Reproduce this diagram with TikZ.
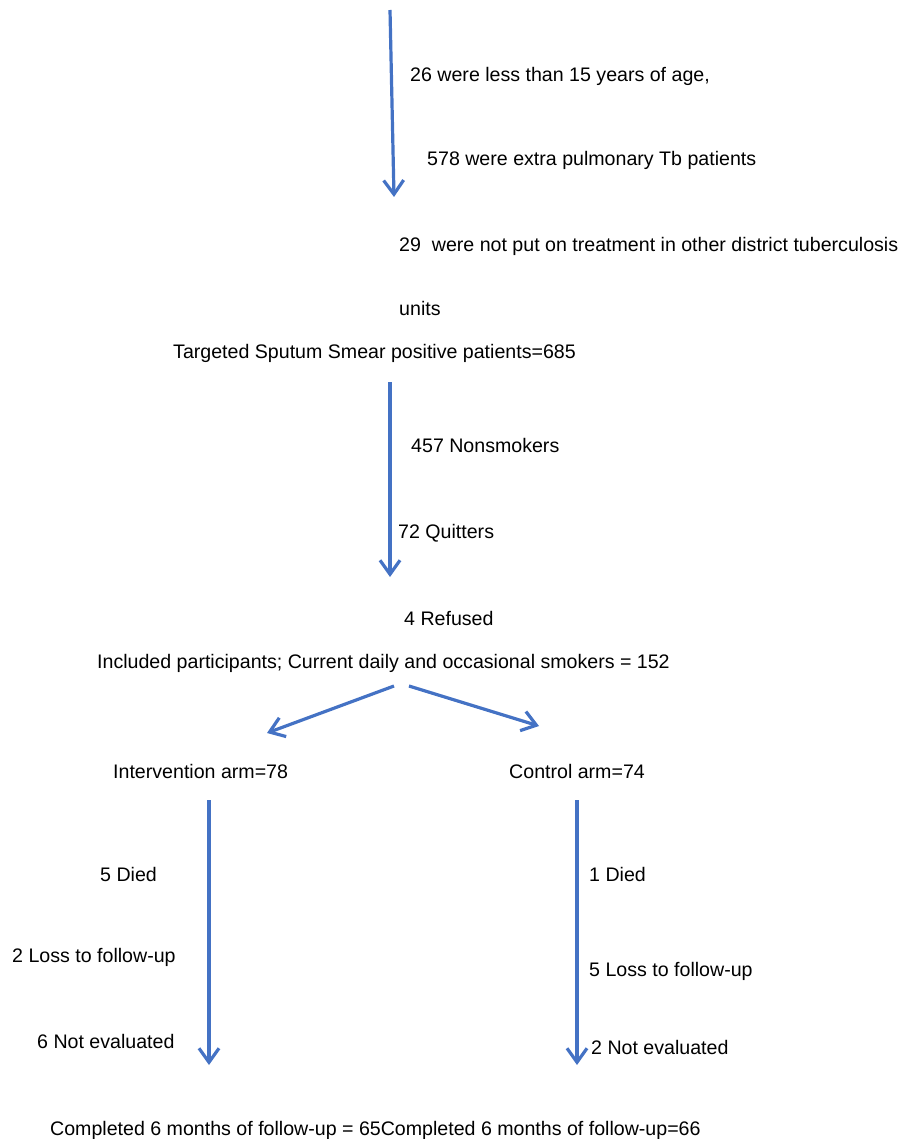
\documentclass[tikz,border=0pt]{standalone}
\usepackage{fontspec}
\setmainfont{Liberation Sans}
\usetikzlibrary{arrows.meta}
\definecolor{arrowblue}{RGB}{68,114,196}

\begin{document}
\begin{tikzpicture}[x=1pt, y=-1pt,
    every node/.style={anchor=base west, inner sep=0pt, font=\fontsize{19.6}{23}\selectfont},
    flow/.style={draw=arrowblue, line width=3.2pt, -{Straight Barb[length=14pt, width=20pt]}}]
    \useasboundingbox (0,0) rectangle (903,1139);

    % exclusions before targeting
    \coordinate (T1) at (390, 10);
    \coordinate (H1) at (394, 197);
    \node (A1) at (410, 82) {26 were less than 15 years of age,};
    \node (A2) at (427, 166) {578 were extra pulmonary Tb patients};
    \node (A3) at (399, 252) {29\ \ were not put on treatment in other district tuberculosis};
    \node (A4) at (399, 315) {units};
    \node (B) at (173, 358) {Targeted Sputum Smear positive patients=685};

    % exclusions before inclusion
    \coordinate (T2) at (390, 382);
    \coordinate (H2) at (390, 577);
    \node (C1) at (411, 452) {457 Nonsmokers};
    \node (C2) at (398, 538) {72 Quitters};
    \node (C3) at (404, 625) {4 Refused};
    \node (D) at (97, 668) {Included participants; Current daily and occasional smokers = 152};

    % split into arms
    \coordinate (S1) at (394, 686);
    \coordinate (S2) at (409, 686);
    \coordinate (E1) at (267, 733);
    \coordinate (E2) at (539, 726);
    \node (I) at (113, 778) {Intervention arm=78};
    \node (K) at (509, 778) {Control arm=74};

    % follow-up
    \coordinate (T3) at (209, 800);
    \coordinate (H3) at (209, 1065);
    \coordinate (T4) at (577, 800);
    \coordinate (H4) at (577, 1065);
    \node (I1) at (100, 881) {5 Died};
    \node (I2) at (12, 962) {2 Loss to follow-up};
    \node (I3) at (37, 1048) {6 Not evaluated};
    \node (K1) at (589, 881) {1 Died};
    \node (K2) at (589, 976) {5 Loss to follow-up};
    \node (K3) at (591, 1054) {2 Not evaluated};
    \node (F) at (50, 1135) {Completed 6 months of follow-up = 65Completed 6 months of follow-up=66};

    \draw[flow] (T1) to (H1);
    \draw[flow] (T2) to (H2);
    \draw[flow] (S1) to (E1);
    \draw[flow] (S2) to (E2);
    \draw[flow] (T3) to (H3);
    \draw[flow] (T4) to (H4);
  \end{tikzpicture}
\end{document}
